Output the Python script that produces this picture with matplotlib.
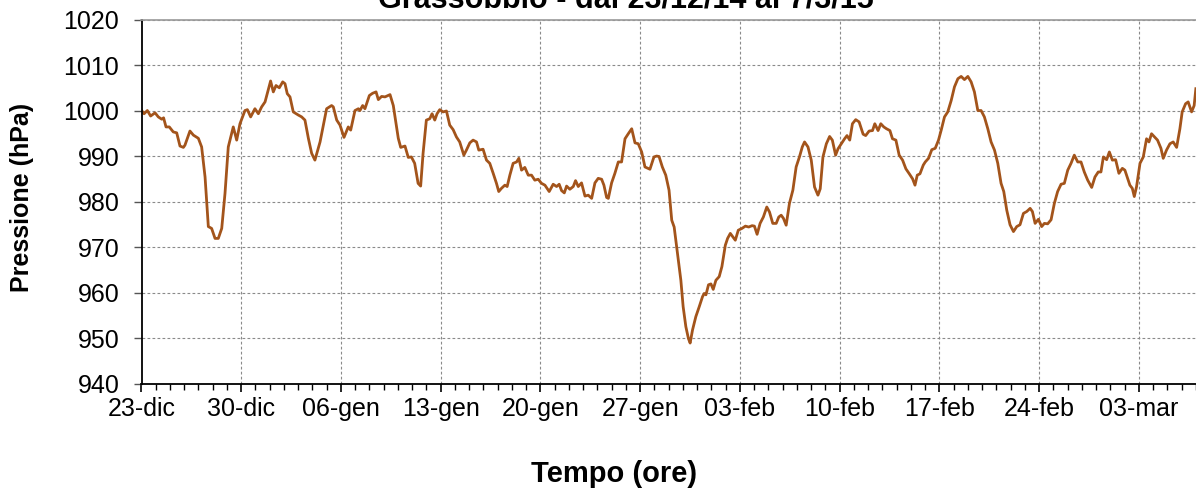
import datetime as dt
import matplotlib
matplotlib.use("Agg")
import matplotlib.pyplot as plt
import matplotlib.dates as mdates
from matplotlib.ticker import FuncFormatter, MultipleLocator

plt.rcParams['font.family'] = ['Liberation Sans', 'DejaVu Sans']

# ---- data: days elapsed since 23-dic-2014 00:00 and pressure (hPa) ----
inizio = dt.datetime(2014, 12, 23)
giorni = [
    0.01, 0.18, 0.41, 0.64, 0.95, 1.18, 1.42, 1.55, 1.72, 1.95, 2.23, 2.47, 2.70, 2.94, 3.05,
    3.40, 3.64, 3.99, 4.22, 4.46, 4.69, 4.92, 5.16, 5.39, 5.63, 5.86, 6.09, 6.44, 6.68, 6.91,
    7.26, 7.43, 7.66, 7.96, 8.20, 8.43, 8.67, 9.06, 9.25, 9.44, 9.67, 9.91, 10.07, 10.23, 10.42,
    10.65, 11.01, 11.24, 11.47, 11.71, 11.94, 12.17, 12.53, 12.99, 13.34, 13.46, 13.70, 13.93,
    14.21, 14.51, 14.68, 14.98, 15.22, 15.33, 15.52, 15.68, 15.99, 16.22, 16.46, 16.62, 16.85,
    17.09, 17.44, 17.67, 18.02, 18.19, 18.49, 18.72,
    18.94, 19.17, 19.41, 19.59, 19.76, 19.99, 20.23, 20.39, 20.58, 20.74, 20.93, 21.16, 21.40,
    21.63, 21.87, 22.10, 22.33, 22.62, 22.80, 23.04, 23.27, 23.51, 23.67, 23.97, 24.21, 24.44,
    24.68, 24.91, 25.07, 25.26, 25.50, 25.66, 25.85, 26.08, 26.32, 26.48, 26.67, 26.90, 27.14,
    27.37, 27.60, 27.84, 28.07, 28.31, 28.61, 28.89, 29.13, 29.31, 29.48, 29.67, 29.83, 30.06,
    30.30, 30.46, 30.65, 30.88, 31.12, 31.35, 31.59, 31.82, 32.05, 32.29, 32.45, 32.64, 32.76,
    32.99, 33.22, 33.46, 33.69, 33.93, 34.16, 34.40, 34.63, 34.86, 35.10, 35.33, 35.68, 35.96,
    36.15,
    36.32, 36.55, 36.79, 37.02, 37.21, 37.38, 37.61, 37.85, 38.01, 38.20, 38.38, 38.50, 38.67,
    38.90, 39.14, 39.37, 39.49, 39.61, 39.79, 39.96, 40.12, 40.31, 40.54, 40.73, 40.97, 41.13,
    41.32, 41.48, 41.67, 41.88, 42.14, 42.38, 42.61, 42.85, 43.01, 43.20, 43.41, 43.64, 43.88,
    44.07, 44.30, 44.54, 44.72, 44.89, 45.05, 45.24, 45.47, 45.71, 45.94, 46.18, 46.37, 46.53,
    46.77, 47.00, 47.23, 47.47, 47.63, 47.82, 48.06, 48.29, 48.48, 48.71, 48.88, 49.11, 49.34,
    49.51, 49.70, 49.89, 50.12, 50.36, 50.64, 50.82, 51.06, 51.30, 51.46, 51.69, 51.88, 52.09,
    52.28, 52.52, 52.70, 52.94, 53.17, 53.41, 53.64, 53.88, 54.11, 54.28, 54.44, 54.63, 54.86,
    55.00, 55.23, 55.46, 55.70, 55.93, 56.12, 56.35, 56.58, 56.82, 57.05, 57.29, 57.52, 57.75,
    57.99, 58.22, 58.45, 58.69, 58.92, 59.15, 59.39, 59.62, 59.86, 60.09, 60.32, 60.51, 60.72,
    60.95, 61.19, 61.42, 61.65, 61.89, 62.12, 62.36, 62.52, 62.71, 62.94, 63.17, 63.36, 63.59,
    63.83, 64.06, 64.29, 64.53, 64.76, 65.00, 65.23, 65.46, 65.70, 65.93, 66.16, 66.40, 66.68,
    66.91, 67.14, 67.33, 67.50, 67.73, 67.92, 68.13, 68.36, 68.59, 68.83, 69.01, 69.20, 69.36,
    69.53, 69.67, 69.83, 70.07, 70.30, 70.53, 70.70, 70.88, 71.12, 71.30, 71.54, 71.70, 71.93,
    72.17, 72.40, 72.64, 72.87, 73.03, 73.27, 73.45, 73.69, 73.87, 73.99,
]
pressione = [
    1000.1, 999.4, 1000.1, 998.9, 999.6, 998.7, 998.2, 998.5, 996.5, 996.5, 995.4, 995.2, 992.3, 992.0, 992.5,
    995.6, 994.7, 994.0, 992.1, 985.5, 974.6, 974.2, 972.0, 972.0, 974.2, 981.9, 992.1, 996.5, 993.6, 997.2,
    1000.1, 1000.3, 998.7, 1000.5, 999.4, 1000.9, 1002.0, 1006.6, 1004.2, 1005.6, 1005.1, 1006.4, 1006.0, 1003.8, 1003.1,
    999.8, 999.1, 998.7, 998.0, 994.0, 990.7, 989.2, 993.2, 1000.5, 1001.2, 1000.9, 998.0, 996.9,
    994.2, 996.5, 995.8, 1000.1, 1000.5, 1000.1, 1001.2, 1000.5, 1003.4, 1003.9, 1004.2, 1002.5, 1003.2,
    1003.1, 1003.6, 1001.2, 994.0, 992.0, 992.3, 989.8,
    989.9, 988.5, 984.1, 983.5, 990.7, 998.0, 998.3, 999.4, 998.0, 999.4, 1000.3, 999.8, 1000.0,
    996.9, 995.9, 994.3, 993.2, 990.3, 991.4, 993.0, 993.6, 993.2, 991.4, 991.6, 989.2, 988.5,
    986.3, 984.1, 982.3, 983.0, 983.7, 983.4, 985.9, 988.5, 988.8, 989.6, 987.0, 987.6, 985.9,
    985.9, 984.8, 985.0, 984.1, 983.7, 982.3, 983.9, 983.4, 983.9, 982.5, 982.0, 983.5, 982.8,
    983.4, 984.7, 983.4, 984.2, 981.3, 981.5, 980.8, 984.2, 985.2, 985.0, 983.7, 981.0, 980.8,
    984.2, 986.3, 988.8, 988.8, 993.9, 995.0, 996.1, 993.0, 992.8, 991.0, 987.7, 987.2, 989.9,
    990.1,
    990.0, 987.7, 985.9, 982.6, 976.0, 974.5, 968.7, 962.8, 957.0, 952.6, 950.0, 949.0, 951.9,
    954.8, 957.0, 959.2, 959.9, 959.6, 961.8, 962.0, 960.8, 962.8, 963.6, 965.8, 970.5, 972.0,
    973.1, 972.4, 971.6, 973.8, 974.2, 974.7, 974.5, 974.8, 974.7, 972.9, 975.3, 976.7, 978.9,
    977.8, 975.3, 975.3, 976.7, 977.1, 976.4, 974.9, 979.7, 982.6, 987.7, 990.0, 992.1, 993.2,
    992.1, 989.2, 983.3, 981.5, 982.9, 989.9, 992.8, 994.4, 993.6, 990.3, 991.7, 992.8, 993.9,
    994.6, 993.6, 997.2, 998.1, 997.6, 994.9, 994.6, 995.6, 995.7, 997.2, 995.7, 997.2, 996.5,
    996.1, 995.7, 993.9, 993.6, 990.3, 989.2, 987.3, 986.2, 985.1, 983.7, 985.9, 986.2, 988.1,
    988.8, 989.6, 991.5, 991.8, 993.6, 995.8, 998.7, 999.8, 1002.3, 1005.3, 1007.1, 1007.6, 1006.9,
    1007.6, 1006.4, 1004.2, 1000.1, 1000.1, 998.7, 996.1, 993.2, 991.4, 988.5, 984.1, 982.3, 978.2,
    975.0, 973.5, 974.6, 975.0, 977.5, 977.9, 978.6, 977.9, 975.3, 976.2, 974.6, 975.3, 975.2,
    976.1, 979.7, 982.3, 983.9, 984.1, 987.0, 988.5, 990.3, 988.8, 988.8, 986.6, 984.8, 983.2,
    985.5, 986.6, 986.6, 989.9, 989.3, 991.0, 989.2, 989.3, 986.3, 987.4, 987.0, 985.2, 983.7,
    983.0, 981.2, 983.4, 988.5, 989.9, 993.9, 993.2, 995.0, 994.2, 993.6, 991.8, 989.6, 991.4,
    992.8, 993.2, 992.0, 996.1, 999.8, 1001.6, 1002.0, 999.8, 1001.2, 1004.9,
]
mesi = {1: 'gen', 2: 'feb', 3: 'mar', 12: 'dic'}
titolo = "Grassobbio - dal 23/12/14 al 7/3/15"
etichetta_y = "Pressione (hPa)"
etichetta_x = "Tempo (ore)"

date = [inizio + dt.timedelta(days=g) for g in giorni]

W, H = 1196, 490
fig = plt.figure(figsize=(W / 100, H / 100), dpi=100)
ax = fig.add_axes([141.5 / W, 1 - 384 / H, (1196 - 141.5) / W, (384 - 20) / H])

ax.plot(date, pressione, color='#A3541B', lw=2.0, solid_joinstyle='round')

ax.set_xlim(inizio, inizio + dt.timedelta(days=74))
ax.set_ylim(940, 1020)
ax.yaxis.set_major_locator(MultipleLocator(10))

ax.set_xticks([inizio + dt.timedelta(days=7 * k) for k in range(11)])
ax.xaxis.set_minor_locator(mdates.DayLocator())
ax.xaxis.set_major_formatter(FuncFormatter(
    lambda v, p: "%02d-%s" % (mdates.num2date(v).day, mesi[mdates.num2date(v).month])))

ax.grid(True, which='major', color='#8a8a8a', lw=0.8, linestyle=(0, (2.5, 2)))
ax.set_axisbelow(True)

for s in ('left', 'bottom'):
    ax.spines[s].set_color('black')
    ax.spines[s].set_linewidth(1.3)
ax.spines['top'].set_color('#9a9a9a')
ax.spines['top'].set_linewidth(1.2)
ax.spines['right'].set_visible(False)

ax.tick_params(axis='y', which='major', direction='out', length=6, width=1, color='#555555',
               labelsize=18, pad=10)
ax.tick_params(axis='x', which='major', direction='out', length=5.5, width=1.2, color='black',
               labelsize=18, pad=4)
ax.tick_params(axis='x', which='minor', direction='out', length=4, width=1, color='black')

fig.text(22 / W, 1 - 197 / H, etichetta_y, rotation=90, ha='center', va='center',
         fontsize=18, fontweight='bold')
fig.text(614 / W, 1 - 474 / H, etichetta_x, ha='center', va='center',
         fontsize=21, fontweight='bold')
fig.text(626 / W, 1 - 7 / H, titolo, ha='center', va='baseline',
         fontsize=22, fontweight='bold')

fig.savefig('out.png', dpi=100)
